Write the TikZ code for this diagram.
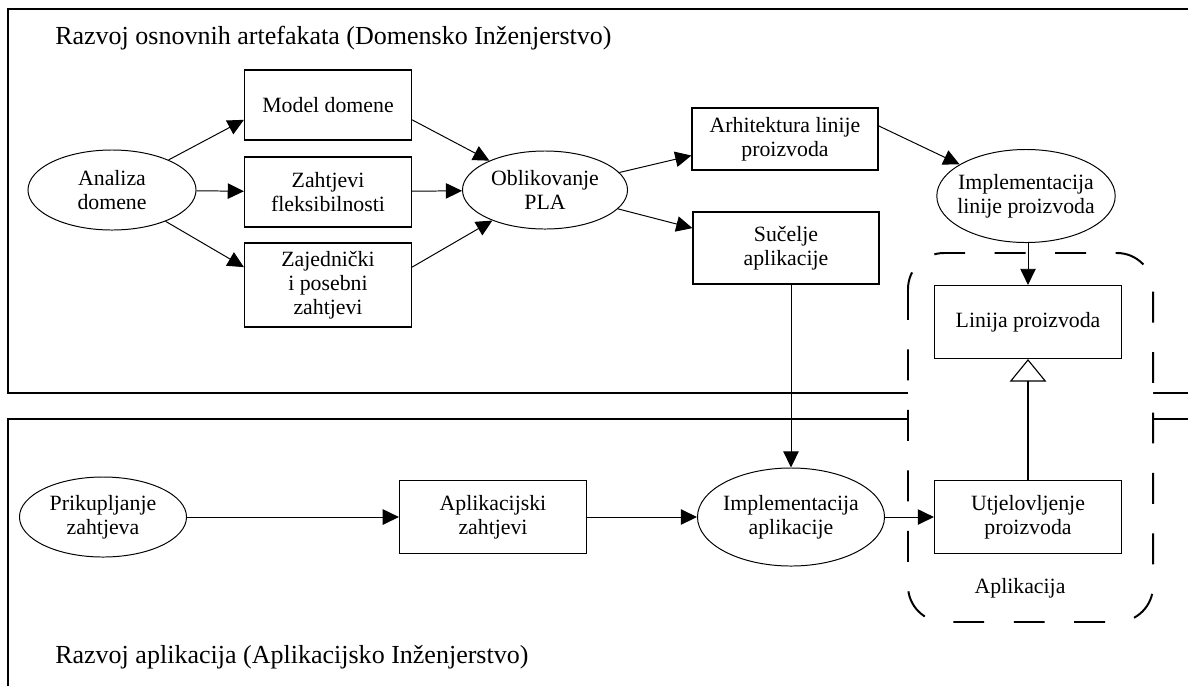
\documentclass[tikz,border=0pt]{standalone}
\usepackage{fontspec}
\setmainfont{Liberation Serif}
\usetikzlibrary{shapes,arrows,arrows.meta}

\begin{document}
\begin{tikzpicture}[x=0.025cm, y=-0.025cm,
     box/.style={draw, line width=0.8pt, rectangle, align=center, inner sep=2pt,
                 font=\fontsize{15.5}{17}\selectfont},
     oval/.style={draw, line width=0.7pt, ellipse, align=center, inner xsep=-4pt, inner ysep=0pt,
                  font=\fontsize{15.5}{17}\selectfont},
     arr/.style={-{Triangle[length=11.5pt, width=11pt]}, line width=0.7pt},
     title/.style={anchor=west, inner sep=0pt, font=\fontsize{18.5}{21}\selectfont}]
     \useasboundingbox (0,0) rectangle (1188,686);
     % the two frames
     \draw [line width=1pt] (1188,9) -- (8,9) -- (8,393) -- (1188,393);
     \draw [line width=1pt] (1188,419) -- (8,419) -- (8,686);
     \node [title] (domtitle) at (55,38) {Razvoj osnovnih artefakata (Domensko Inženjerstvo)};
     \node [title] (apptitle) at (55,657) {Razvoj aplikacija (Aplikacijsko Inženjerstvo)};
     % application region
     \draw [line width=1.4pt, dash pattern=on 22pt off 21pt, fill=white, rounded corners=0.9cm]
          (908,253) rectangle (1153,622);
     \node [inner sep=0pt, font=\fontsize{15.5}{17}\selectfont] (aplikacija) at (1020,588) {Aplikacija};
     % domain engineering
     \node [oval, minimum width=4.2cm, minimum height=2cm] (analiza) at (112,190) {Analiza\\domene};
     \node [box, minimum width=4.175cm, minimum height=1.75cm] (model) at (328,105) {Model domene};
     \node [box, minimum width=4.175cm, minimum height=1.75cm] (fleks) at (328,192) {Zahtjevi\\fleksibilnosti};
     \node [box, minimum width=4.175cm, minimum height=2.1cm] (zajed) at (328,285) {Zajednički\\i posebni\\zahtjevi};
     \node [oval, minimum width=4.125cm, minimum height=1.95cm] (oblik) at (545,190) {Oblikovanje\\PLA};
     \node [box, minimum width=4.65cm, minimum height=1.55cm] (arhit) at (785,139) {Arhitektura linije\\proizvoda};
     \node [box, minimum width=4.65cm, minimum height=1.8cm] (sucelje) at (786,248) {Sučelje\\aplikacije};
     \node [oval, minimum width=4.425cm, minimum height=2.325cm] (impllin) at (1026,196) {Implementacija\\linije proizvoda};
     \node [box, minimum width=4.675cm, minimum height=1.825cm] (linija) at (1028,322) {Linija proizvoda};
     % application engineering
     \node [oval, minimum width=4.175cm, minimum height=2cm] (prikup) at (103,517) {Prikupljanje\\zahtjeva};
     \node [box, minimum width=4.675cm, minimum height=1.825cm] (aplzaht) at (493,517) {Aplikacijski\\zahtjevi};
     \node [oval, minimum width=4.675cm, minimum height=2.45cm] (implapp) at (791,517) {Implementacija\\aplikacije};
     \node [box, minimum width=4.675cm, minimum height=1.825cm] (utjel) at (1028,517) {Utjelovljenje\\proizvoda};
     % connectors
     \draw [arr] (analiza) -- (model.190);
     \draw [arr] (analiza) -- (fleks);
     \draw [arr] (analiza) -- (zajed.168);
     \draw [arr] (model.350) -- (oblik);
     \draw [arr] (fleks) -- (oblik);
     \draw [arr] (zajed.12) -- (oblik);
     \draw [arr] (oblik) -- (arhit.190);
     \draw [arr] (oblik) -- (sucelje.168);
     \draw [arr] (arhit.8) -- (impllin);
     \draw [arr] (linija.north |- impllin.south) -- (linija.north);
     \draw [arr] (sucelje.south -| implapp.north) -- (implapp.north);
     \draw [arr] (prikup) -- (aplzaht);
     \draw [arr] (aplzaht) -- (implapp);
     \draw [arr] (implapp) -- (utjel);
     \draw [-{Triangle[open, length=16pt, width=26pt]}, line width=0.8pt] (utjel) -- (linija);
\end{tikzpicture}
\end{document}
